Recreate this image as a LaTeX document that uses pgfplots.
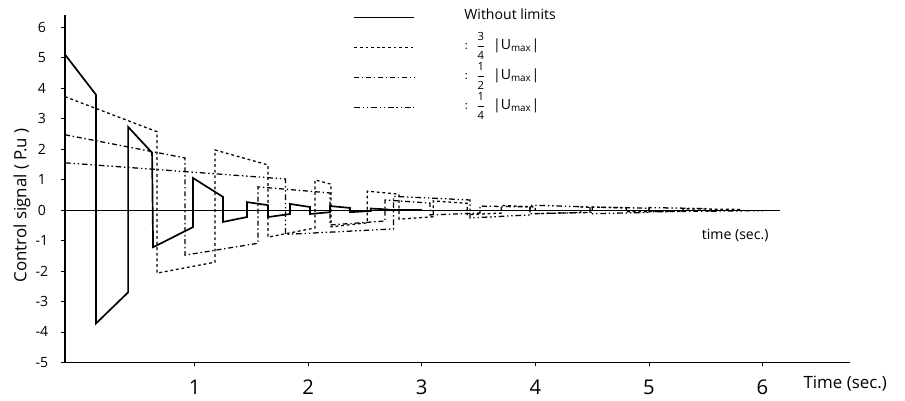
\documentclass[border=0pt]{standalone}
\usepackage{pgfplots}
\pgfplotsset{compat=1.18}
\usepackage{amsmath}
\usepackage{fontspec}
\setmainfont{Open Sans}
\newcommand{\fr}[2]{$:\ \dfrac{\text{\footnotesize #1}}{\text{\footnotesize #2}}$\ \ |U\textsubscript{max}|}

\begin{document}
\begin{tikzpicture}
\begin{axis}[
  scale only axis,
  width=196mm, height=86.75mm,
  xmin=-0.141, xmax=6.77,
  ymin=-5, ymax=6.4,
  axis lines*=left,
  axis line style={line width=1.1pt},
  xtick={1,...,6}, ytick={-5,...,6},
  tick style={black, line width=0.6pt},
  major tick length=1mm,
  tick align=outside,
  /pgf/number format/assume math mode=true,
  xticklabel style={font=\Large, anchor=center, yshift=-5.25mm},
  yticklabel style={font=\normalsize, anchor=center, xshift=-4.8mm},
  ylabel={Control signal ( P.u )},
  every axis y label/.style={at={(axis description cs:-0.055,0.452)}, rotate=90, anchor=center, font=\large},
  xlabel={Time (sec.)},
  every axis x label/.style={at={(axis description cs:0.994,0)}, anchor=center, yshift=-5.25mm, font=\large},
  legend style={draw=none, fill=none, inner sep=0pt, at={(axis description cs:0.367,1.035)}, anchor=north west,
    font=\normalsize, row sep=0.3mm,
    nodes={text height=3.8mm, text depth=2.8mm, inner sep=0.3mm},
    /tikz/every odd column/.append style={column sep=12mm}},
  legend cell align=left,
  legend image code/.code={\draw[#1] (0mm,0mm) -- (15mm,0mm);},
]
% time axis drawn inside the plot
\addplot[forget plot, black, line width=0.7pt] coordinates {(-0.141,0) (6.15,0)};

\addplot[black, line width=1.2pt] coordinates {
  (-0.141,5.10) (0.132,3.78) (0.132,-3.72) (0.414,-2.70) (0.414,2.73)
  (0.625,1.88) (0.634,-1.22) (0.986,-0.56) (0.986,1.05) (1.250,0.43)
  (1.250,-0.39) (1.461,-0.23) (1.461,0.26) (1.646,0.16) (1.646,-0.23)
  (1.840,-0.13) (1.840,0.20) (2.016,0.10) (2.016,-0.13) (2.192,-0.07)
  (2.192,0.13) (2.368,0.07) (2.368,-0.07) (2.55,-0.03) (2.55,0.05)
  (2.70,0.02) (2.70,0) (3.00,0)
};
\addlegendentry{Without limits}

\addplot[black, line width=0.9pt, dash pattern=on 2pt off 2pt] coordinates {
  (-0.141,3.72) (0.669,2.57) (0.669,-2.07) (1.180,-1.71) (1.180,1.97)
  (1.646,1.48) (1.646,-0.89) (2.060,-0.59) (2.060,0.99) (2.20,0.85)
  (2.20,-0.55) (2.52,-0.42) (2.52,0.62) (2.80,0.52) (2.80,-0.30)
  (3.10,-0.22) (3.10,0.30) (3.40,0.22) (3.40,-0.15) (3.70,-0.10)
  (3.70,0.15) (4.00,0.10) (4.00,-0.12) (4.40,-0.08) (4.40,0.10)
  (4.80,0.07) (4.80,-0.06) (5.30,-0.04) (5.30,0.04) (5.80,0.02) (5.80,0)
};
\addlegendentry{\fr{3}{4}}

\addplot[black, line width=0.9pt, dash pattern=on 3.5pt off 2pt on 1pt off 2pt] coordinates {
  (-0.141,2.47) (0.915,1.71) (0.915,-1.48) (1.558,-1.09) (1.558,0.76)
  (2.192,0.56) (2.192,-0.49) (2.676,-0.36) (2.676,0.33) (3.072,0.23)
  (3.072,-0.16) (3.512,-0.10) (3.512,0.13) (3.952,0.10) (3.952,-0.12)
  (4.50,-0.08) (4.50,0.10) (5.00,0.06) (5.00,-0.06) (5.60,-0.03) (5.60,0)
};
\addlegendentry{\fr{1}{2}}

\addplot[black, line width=0.9pt, dash pattern=on 4pt off 2pt on 1pt off 2pt on 1pt off 2pt] coordinates {
  (-0.141,1.55) (1.80,1.02) (1.80,-0.80) (2.75,-0.62) (2.75,0.45)
  (3.424,0.33) (3.424,-0.26) (3.952,-0.16) (3.952,0.16) (4.481,0.10)
  (4.481,-0.12) (5.00,-0.08) (5.00,0.08) (5.50,0.05) (5.50,-0.04)
  (6.00,-0.02) (6.00,0)
};
\addlegendentry{\fr{1}{4}}

\node[font=\normalsize] at (axis cs:5.76,-0.85) {time (sec.)};

\coordinate (ll) at (rel axis cs:0,0);
\coordinate (ur) at (rel axis cs:1,1);
\end{axis}
\pgfresetboundingbox
\path[use as bounding box] ([xshift=-16.25mm,yshift=-9.5mm]ll) rectangle ([xshift=13.75mm,yshift=3.75mm]ur);
\end{tikzpicture}
\end{document}
